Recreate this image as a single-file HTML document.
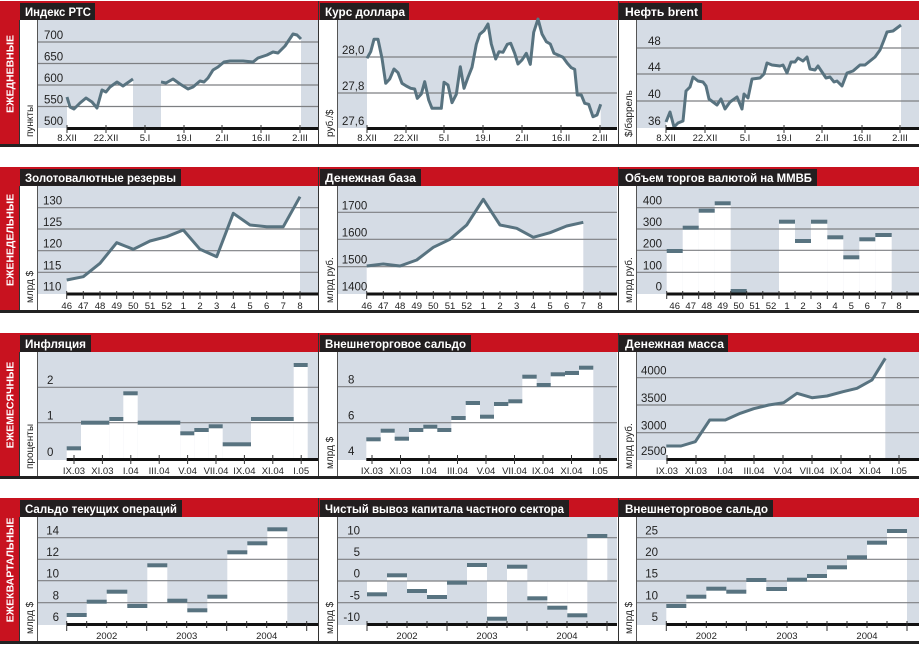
<!DOCTYPE html>
<html><head><meta charset="utf-8"><style>
html,body{margin:0;padding:0;background:#fff;}
svg{display:block;font-family:"Liberation Sans",Arial,sans-serif;}
.t{fill:#fff;font-weight:bold;font-size:12px;}
.s{fill:#fff;font-weight:bold;font-size:10.5px;}
.yl{fill:#222;font-size:11.5px;}
.xl{fill:#222;font-size:9.5px;text-anchor:middle;}
.un{fill:#222;font-size:10px;}
.g{stroke:#7d7f82;stroke-width:1.2;}
.ln{fill:none;stroke:#587380;stroke-width:3;stroke-linejoin:round;}
.tk{stroke:#333;stroke-width:1;}
.b{fill:#587380;}
</style></head><body>
<svg width="919" height="646" viewBox="0 0 919 646" xmlns="http://www.w3.org/2000/svg">
<g id="r0">
<rect x="0" y="1" width="919" height="19" fill="#c8121f"/>
<rect x="0" y="1" width="19" height="145" fill="#c8121f"/>
<rect x="38" y="20" width="280" height="108" fill="#d5dce5"/>
<rect x="338" y="20" width="279" height="108" fill="#d5dce5"/>
<rect x="637" y="20" width="282" height="108" fill="#d5dce5"/>
<line x1="19.5" y1="20" x2="19.5" y2="146" stroke="#333"/>
<line x1="37.5" y1="20" x2="37.5" y2="146" stroke="#555"/>
<line x1="318.5" y1="1" x2="318.5" y2="146" stroke="#333"/>
<line x1="337.5" y1="20" x2="337.5" y2="146" stroke="#555"/>
<line x1="618.5" y1="1" x2="618.5" y2="146" stroke="#333"/>
<line x1="636.5" y1="20" x2="636.5" y2="146" stroke="#555"/>
<rect x="0" y="144" width="919" height="3" fill="#222"/>
</g>
<use href="#r0" y="166"/>
<use href="#r0" y="332"/>
<use href="#r0" y="497"/>

<rect x="20" y="3" width="75" height="17" fill="#231f20"/><text class="t" x="25" y="16" textLength="66" lengthAdjust="spacingAndGlyphs">Индекс РТС</text>
<rect x="320" y="3" width="89" height="17" fill="#231f20"/><text class="t" x="325" y="16" textLength="80" lengthAdjust="spacingAndGlyphs">Курс доллара</text>
<rect x="619" y="3" width="83" height="17" fill="#231f20"/><text class="t" x="625" y="16" textLength="73" lengthAdjust="spacingAndGlyphs">Нефть brent</text>
<rect x="20" y="169" width="161" height="17" fill="#231f20"/><text class="t" x="25" y="182" textLength="151" lengthAdjust="spacingAndGlyphs">Золотовалютные резервы</text>
<rect x="320" y="169" width="101" height="17" fill="#231f20"/><text class="t" x="325" y="182" textLength="91" lengthAdjust="spacingAndGlyphs">Денежная база</text>
<rect x="619" y="169" width="198" height="17" fill="#231f20"/><text class="t" x="625" y="182" textLength="187" lengthAdjust="spacingAndGlyphs">Объем торгов валютой на ММВБ</text>
<rect x="20" y="335" width="71" height="17" fill="#231f20"/><text class="t" x="25" y="348" textLength="61" lengthAdjust="spacingAndGlyphs">Инфляция</text>
<rect x="320" y="335" width="151" height="17" fill="#231f20"/><text class="t" x="325" y="348" textLength="141" lengthAdjust="spacingAndGlyphs">Внешнеторговое сальдо</text>
<rect x="619" y="335" width="109" height="17" fill="#231f20"/><text class="t" x="625" y="348" textLength="99" lengthAdjust="spacingAndGlyphs">Денежная масса</text>
<rect x="20" y="500" width="162" height="17" fill="#231f20"/><text class="t" x="25" y="513" textLength="152" lengthAdjust="spacingAndGlyphs">Сальдо текущих операций</text>
<rect x="320" y="500" width="249" height="17" fill="#231f20"/><text class="t" x="325" y="513" textLength="239" lengthAdjust="spacingAndGlyphs">Чистый вывоз капитала частного сектора</text>
<rect x="619" y="500" width="154" height="17" fill="#231f20"/><text class="t" x="625" y="513" textLength="143" lengthAdjust="spacingAndGlyphs">Внешнеторговое сальдо</text>

<text class="s" transform="translate(13.5,74) rotate(-90)" text-anchor="middle">ЕЖЕДНЕВНЫЕ</text>
<text class="s" transform="translate(13.5,240) rotate(-90)" text-anchor="middle">ЕЖЕНЕДЕЛЬНЫЕ</text>
<text class="s" transform="translate(13.5,405) rotate(-90)" text-anchor="middle">ЕЖЕМЕСЯЧНЫЕ</text>
<text class="s" transform="translate(13.5,570) rotate(-90)" text-anchor="middle">ЕЖЕКВАРТАЛЬНЫЕ</text>

<text class="un" transform="translate(33,137) rotate(-90)">пункты</text>
<text class="un" transform="translate(333,137) rotate(-90)">руб./$</text>
<text class="un" transform="translate(632,137) rotate(-90)">$/баррель</text>
<text class="un" transform="translate(33,303) rotate(-90)">млрд $</text>
<text class="un" transform="translate(333,303) rotate(-90)">млрд руб.</text>
<text class="un" transform="translate(632,303) rotate(-90)">млрд руб.</text>
<text class="un" transform="translate(33,469) rotate(-90)">проценты</text>
<text class="un" transform="translate(333,469) rotate(-90)">млрд $</text>
<text class="un" transform="translate(632,469) rotate(-90)">млрд руб.</text>
<text class="un" transform="translate(33,634) rotate(-90)">млрд $</text>
<text class="un" transform="translate(333,634) rotate(-90)">млрд $</text>
<text class="un" transform="translate(632,634) rotate(-90)">млрд $</text>

<!-- R1C1 -->
<polygon fill="#fff" points="67,97 70,107 74,109 80,103 86,98 92,102 97,108 102,90 106,92 110,87 117,82 123,86 133,79 133,128 67,128"/>
<polygon fill="#fff" points="161,82 166,83 173,79 180,84 188,89 193,87 200,81 204,82 208,78 213,70 218,67 224,62 230,61 237,61 243,61 253,62 258,58 267,55 273,52 278,53 285,46 293,34 297,35 301,39 301,128 161,128"/>
<g class="g"><line x1="38" y1="42" x2="318" y2="42"/><line x1="38" y1="63.5" x2="318" y2="63.5"/><line x1="38" y1="85" x2="318" y2="85"/><line x1="38" y1="106.5" x2="318" y2="106.5"/></g>
<g class="yl"><text x="44" y="39">700</text><text x="44" y="60.5">650</text><text x="44" y="82">600</text><text x="44" y="103.5">550</text><text x="44" y="125">500</text></g>
<polyline class="ln" points="67,97 70,107 74,109 80,103 86,98 92,102 97,108 102,90 106,92 110,87 117,82 123,86 133,79"/>
<polyline class="ln" points="161,82 166,83 173,79 180,84 188,89 193,87 200,81 204,82 208,78 213,70 218,67 224,62 230,61 237,61 243,61 253,62 258,58 267,55 273,52 278,53 285,46 293,34 297,35 301,39"/>
<rect x="67" y="127" width="251" height="3" fill="#111"/>
<g class="tk"><line x1="67" y1="125" x2="67" y2="133"/><line x1="106" y1="125" x2="106" y2="133"/><line x1="145" y1="125" x2="145" y2="133"/><line x1="184" y1="125" x2="184" y2="133"/><line x1="222" y1="125" x2="222" y2="133"/><line x1="261" y1="125" x2="261" y2="133"/><line x1="300" y1="125" x2="300" y2="133"/></g>
<g class="xl"><text x="67" y="141">8.XII</text><text x="106" y="141">22.XII</text><text x="145" y="141">5.I</text><text x="184" y="141">19.I</text><text x="222" y="141">2.II</text><text x="261" y="141">16.II</text><text x="300" y="141">2.III</text></g>

<!-- R1C2 -->
<polygon fill="#fff" points="367,58.3 370.7,51.7 374,39.3 378,39.3 382,58.3 385.7,83.3 389.7,79 394,69 398,72.7 402,83.3 406.3,86 410.7,88.3 414.7,89 417.3,98.3 421.3,94 424.7,81.7 428.7,100 432,108.3 441.3,108.3 444,82.3 448,85 452,102.7 456.3,94.3 460.3,66.7 464,88.3 468,77.3 472,67.3 476.3,44.3 479.7,34.3 484,30.7 488,24 491.3,44 495.7,59 499,51.7 503,52.3 507.3,44.3 510.7,43.3 514.7,53.3 518,64 522,60 526.3,53.3 530.3,64.3 533.7,32.3 538,19 542,34 546.3,41.7 550.3,44 554,53.3 558,55 563,57.3 567.3,63.3 571.3,67.7 574.7,69.3 577.3,95 581.3,95 584.7,103.3 588.7,104.3 593,116.7 597,115 600.7,104.3 600.7,128 367,128"/>
<g class="g"><line x1="338" y1="57" x2="617" y2="57"/><line x1="338" y1="93" x2="617" y2="93"/></g>
<g class="yl"><text x="342" y="54">28,0</text><text x="342" y="90">27,8</text><text x="342" y="125">27,6</text></g>
<polyline class="ln" points="367,58.3 370.7,51.7 374,39.3 378,39.3 382,58.3 385.7,83.3 389.7,79 394,69 398,72.7 402,83.3 406.3,86 410.7,88.3 414.7,89 417.3,98.3 421.3,94 424.7,81.7 428.7,100 432,108.3 441.3,108.3 444,82.3 448,85 452,102.7 456.3,94.3 460.3,66.7 464,88.3 468,77.3 472,67.3 476.3,44.3 479.7,34.3 484,30.7 488,24 491.3,44 495.7,59 499,51.7 503,52.3 507.3,44.3 510.7,43.3 514.7,53.3 518,64 522,60 526.3,53.3 530.3,64.3 533.7,32.3 538,19 542,34 546.3,41.7 550.3,44 554,53.3 558,55 563,57.3 567.3,63.3 571.3,67.7 574.7,69.3 577.3,95 581.3,95 584.7,103.3 588.7,104.3 593,116.7 597,115 600.7,104.3"/>
<rect x="367" y="127" width="250" height="3" fill="#111"/>
<g class="tk"><line x1="367" y1="125" x2="367" y2="133"/><line x1="406" y1="125" x2="406" y2="133"/><line x1="444" y1="125" x2="444" y2="133"/><line x1="483" y1="125" x2="483" y2="133"/><line x1="522" y1="125" x2="522" y2="133"/><line x1="561" y1="125" x2="561" y2="133"/><line x1="600" y1="125" x2="600" y2="133"/></g>
<g class="xl"><text x="367" y="141">8.XII</text><text x="406" y="141">22.XII</text><text x="444" y="141">5.I</text><text x="483" y="141">19.I</text><text x="522" y="141">2.II</text><text x="561" y="141">16.II</text><text x="600" y="141">2.III</text></g>

<!-- R1C3 -->
<polygon fill="#fff" points="666,122 670,112 674,127 678,123 683,121 686,91 690,87 693,77 698,81 703,82 706,86 709,99 713,102 717,105 721,99 725,109 730,102 737,97 742,109 744,94 748,98 752,79 760,78 764,74 767,63 772,65 780,66 783,65 787,73 791,62 795,62 798,58 803,61 807,57 810,69 815,70 818,66 826,78 830,77 834,82 837,81 842,86 847,73 853,71 860,65 865,65 870,61 875,57 880,50 884,40 887,32 893,31 901,25 901,128 666,128"/>
<g class="g"><line x1="637" y1="48" x2="919" y2="48"/><line x1="637" y1="74" x2="919" y2="74"/><line x1="637" y1="101" x2="919" y2="101"/></g>
<g class="yl"><text x="648" y="45">48</text><text x="648" y="71">44</text><text x="648" y="98">40</text><text x="648" y="125">36</text></g>
<polyline class="ln" points="666,122 670,112 674,127 678,123 683,121 686,91 690,87 693,77 698,81 703,82 706,86 709,99 713,102 717,105 721,99 725,109 730,102 737,97 742,109 744,94 748,98 752,79 760,78 764,74 767,63 772,65 780,66 783,65 787,73 791,62 795,62 798,58 803,61 807,57 810,69 815,70 818,66 826,78 830,77 834,82 837,81 842,86 847,73 853,71 860,65 865,65 870,61 875,57 880,50 884,40 887,32 893,31 901,25"/>
<rect x="666" y="127" width="253" height="3" fill="#111"/>
<g class="tk"><line x1="666" y1="125" x2="666" y2="133"/><line x1="705" y1="125" x2="705" y2="133"/><line x1="745" y1="125" x2="745" y2="133"/><line x1="784" y1="125" x2="784" y2="133"/><line x1="822" y1="125" x2="822" y2="133"/><line x1="862" y1="125" x2="862" y2="133"/><line x1="900" y1="125" x2="900" y2="133"/></g>
<g class="xl"><text x="666" y="141">8.XII</text><text x="705" y="141">22.XII</text><text x="745" y="141">5.I</text><text x="784" y="141">19.I</text><text x="822" y="141">2.II</text><text x="862" y="141">16.II</text><text x="900" y="141">2.III</text></g>

<!-- R2C1 -->
<polygon fill="#fff" points="66.7,280 83.3,276.7 100,263.3 116.7,242.7 133.3,249.3 150,241 166.7,236.7 183.3,230 200,249.3 216.7,256.7 233.3,213.3 250,225 266.7,226.7 283.3,226.7 300,196.7 300,294 66.7,294"/>
<g class="g"><line x1="38" y1="207.7" x2="318" y2="207.7"/><line x1="38" y1="229" x2="318" y2="229"/><line x1="38" y1="250.7" x2="318" y2="250.7"/><line x1="38" y1="272.3" x2="318" y2="272.3"/></g>
<g class="yl"><text x="43" y="204.7">130</text><text x="43" y="226">125</text><text x="43" y="247.7">120</text><text x="43" y="269.3">115</text><text x="43" y="290.3">110</text></g>
<polyline class="ln" points="66.7,280 83.3,276.7 100,263.3 116.7,242.7 133.3,249.3 150,241 166.7,236.7 183.3,230 200,249.3 216.7,256.7 233.3,213.3 250,225 266.7,226.7 283.3,226.7 300,196.7"/>
<rect x="66.7" y="292.5" width="251.3" height="3" fill="#111"/>
<g class="tk"><line x1="66.7" y1="291" x2="66.7" y2="299"/><line x1="83.3" y1="291" x2="83.3" y2="299"/><line x1="100" y1="291" x2="100" y2="299"/><line x1="116.7" y1="291" x2="116.7" y2="299"/><line x1="133.3" y1="291" x2="133.3" y2="299"/><line x1="150" y1="291" x2="150" y2="299"/><line x1="166.7" y1="291" x2="166.7" y2="299"/><line x1="183.3" y1="291" x2="183.3" y2="299"/><line x1="200" y1="291" x2="200" y2="299"/><line x1="216.7" y1="291" x2="216.7" y2="299"/><line x1="233.3" y1="291" x2="233.3" y2="299"/><line x1="250" y1="291" x2="250" y2="299"/><line x1="266.7" y1="291" x2="266.7" y2="299"/><line x1="283.3" y1="291" x2="283.3" y2="299"/><line x1="300" y1="291" x2="300" y2="299"/></g>
<g class="xl"><text x="66.7" y="309">46</text><text x="83.3" y="309">47</text><text x="100" y="309">48</text><text x="116.7" y="309">49</text><text x="133.3" y="309">50</text><text x="150" y="309">51</text><text x="166.7" y="309">52</text><text x="183.3" y="309">1</text><text x="200" y="309">2</text><text x="216.7" y="309">3</text><text x="233.3" y="309">4</text><text x="250" y="309">5</text><text x="266.7" y="309">6</text><text x="283.3" y="309">7</text><text x="300" y="309">8</text></g>

<!-- R2C2 -->
<polygon fill="#fff" points="366.7,266 383.3,264 400,266 416.7,260 433.3,247.3 450,239.3 466.7,225 483.3,199.3 500,225 516.7,228.3 533.3,237.3 550,232.7 566.7,226 583.3,222.3 583.3,294 366.7,294"/>
<g class="g"><line x1="338" y1="212.3" x2="617" y2="212.3"/><line x1="338" y1="239.3" x2="617" y2="239.3"/><line x1="338" y1="266.7" x2="617" y2="266.7"/></g>
<g class="yl"><text x="341.7" y="209.3">1700</text><text x="341.7" y="236.3">1600</text><text x="341.7" y="263.7">1500</text><text x="341.7" y="290.3">1400</text></g>
<polyline class="ln" points="366.7,266 383.3,264 400,266 416.7,260 433.3,247.3 450,239.3 466.7,225 483.3,199.3 500,225 516.7,228.3 533.3,237.3 550,232.7 566.7,226 583.3,222.3"/>
<rect x="366.7" y="292.5" width="250.3" height="3" fill="#111"/>
<g class="tk"><line x1="366.7" y1="291" x2="366.7" y2="299"/><line x1="383.3" y1="291" x2="383.3" y2="299"/><line x1="400" y1="291" x2="400" y2="299"/><line x1="416.7" y1="291" x2="416.7" y2="299"/><line x1="433.3" y1="291" x2="433.3" y2="299"/><line x1="450" y1="291" x2="450" y2="299"/><line x1="466.7" y1="291" x2="466.7" y2="299"/><line x1="483.3" y1="291" x2="483.3" y2="299"/><line x1="500" y1="291" x2="500" y2="299"/><line x1="516.7" y1="291" x2="516.7" y2="299"/><line x1="533.3" y1="291" x2="533.3" y2="299"/><line x1="550" y1="291" x2="550" y2="299"/><line x1="566.7" y1="291" x2="566.7" y2="299"/><line x1="583.3" y1="291" x2="583.3" y2="299"/><line x1="600" y1="291" x2="600" y2="299"/></g>
<g class="xl"><text x="366.7" y="309">46</text><text x="383.3" y="309">47</text><text x="400" y="309">48</text><text x="416.7" y="309">49</text><text x="433.3" y="309">50</text><text x="450" y="309">51</text><text x="466.7" y="309">52</text><text x="483.3" y="309">1</text><text x="500" y="309">2</text><text x="516.7" y="309">3</text><text x="533.3" y="309">4</text><text x="550" y="309">5</text><text x="566.7" y="309">6</text><text x="583.3" y="309">7</text><text x="600" y="309">8</text></g>

<!-- R2C3 -->
<g fill="#fff">
<rect x="666.7" y="251" width="16" height="43"/><rect x="682.7" y="227.7" width="16" height="66"/><rect x="698.7" y="210.7" width="16" height="83"/><rect x="714.7" y="203.3" width="16" height="91"/><rect x="730.7" y="291" width="16" height="3"/>
<rect x="779" y="221.7" width="16" height="72"/><rect x="795" y="241" width="16" height="53"/><rect x="811" y="221.7" width="16.3" height="72"/><rect x="827.3" y="237.3" width="16" height="57"/><rect x="843.3" y="257.3" width="16" height="37"/><rect x="859.3" y="239.3" width="16" height="55"/><rect x="875.3" y="235" width="16.4" height="59"/>
</g>
<g class="g"><line x1="637" y1="207.7" x2="919" y2="207.7"/><line x1="637" y1="229" x2="919" y2="229"/><line x1="637" y1="250.3" x2="919" y2="250.3"/><line x1="637" y1="272.3" x2="919" y2="272.3"/></g>
<g class="yl" text-anchor="end"><text x="662" y="204.7">400</text><text x="662" y="226">300</text><text x="662" y="247.3">200</text><text x="662" y="269.3">100</text><text x="662" y="290.3">0</text></g>
<g class="b">
<rect x="666.7" y="249" width="16" height="4"/><rect x="682.7" y="225.7" width="16" height="4"/><rect x="698.7" y="208.7" width="16" height="4"/><rect x="714.7" y="201.3" width="16" height="4"/><rect x="730.7" y="289" width="16" height="4"/>
<rect x="779" y="219.7" width="16" height="4"/><rect x="795" y="239" width="16" height="4"/><rect x="811" y="219.7" width="16.3" height="4"/><rect x="827.3" y="235.3" width="16" height="4"/><rect x="843.3" y="255.3" width="16" height="4"/><rect x="859.3" y="237.3" width="16" height="4"/><rect x="875.3" y="233" width="16.4" height="4"/>
</g>
<rect x="666.7" y="292.5" width="252.3" height="3" fill="#111"/>
<g class="tk"><line x1="666.7" y1="291" x2="666.7" y2="299"/><line x1="682.7" y1="291" x2="682.7" y2="299"/><line x1="698.7" y1="291" x2="698.7" y2="299"/><line x1="714.7" y1="291" x2="714.7" y2="299"/><line x1="730.7" y1="291" x2="730.7" y2="299"/><line x1="746.7" y1="291" x2="746.7" y2="299"/><line x1="762.8" y1="291" x2="762.8" y2="299"/><line x1="779" y1="291" x2="779" y2="299"/><line x1="795" y1="291" x2="795" y2="299"/><line x1="811" y1="291" x2="811" y2="299"/><line x1="827.3" y1="291" x2="827.3" y2="299"/><line x1="843.3" y1="291" x2="843.3" y2="299"/><line x1="859.3" y1="291" x2="859.3" y2="299"/><line x1="875.3" y1="291" x2="875.3" y2="299"/><line x1="891.7" y1="291" x2="891.7" y2="299"/><line x1="907" y1="291" x2="907" y2="299"/></g>
<g class="xl"><text x="674.7" y="309">46</text><text x="690.7" y="309">47</text><text x="706.7" y="309">48</text><text x="722.7" y="309">49</text><text x="738.7" y="309">50</text><text x="754.7" y="309">51</text><text x="771" y="309">52</text><text x="787" y="309">1</text><text x="803" y="309">2</text><text x="819" y="309">3</text><text x="835" y="309">4</text><text x="851.3" y="309">5</text><text x="867.3" y="309">6</text><text x="883.5" y="309">7</text><text x="899" y="309">8</text></g>

<!-- R3C1 -->
<g fill="#fff">
<rect x="66.7" y="448.3" width="14.3" height="11"/><rect x="81" y="422.7" width="28.3" height="37"/><rect x="109.3" y="419" width="14" height="40"/><rect x="123.3" y="393.3" width="14.4" height="66"/><rect x="137.7" y="422.7" width="42.6" height="37"/><rect x="180.3" y="433.3" width="14" height="26"/><rect x="194.3" y="430" width="14.4" height="29"/><rect x="208.7" y="426.3" width="14" height="33"/><rect x="222.7" y="444.3" width="28.3" height="15"/><rect x="251" y="419" width="42.7" height="40"/><rect x="293.7" y="365" width="14" height="94"/>
</g>
<g class="g"><line x1="38" y1="387.3" x2="318" y2="387.3"/><line x1="38" y1="422.7" x2="318" y2="422.7"/></g>
<g class="yl"><text x="47" y="384">2</text><text x="47" y="419.5">1</text><text x="47" y="456">0</text></g>
<g class="b">
<rect x="66.7" y="446.3" width="14.3" height="4"/><rect x="81" y="420.7" width="28.3" height="4"/><rect x="109.3" y="417" width="14" height="4"/><rect x="123.3" y="391.3" width="14.4" height="4"/><rect x="137.7" y="420.7" width="42.6" height="4"/><rect x="180.3" y="431.3" width="14" height="4"/><rect x="194.3" y="428" width="14.4" height="4"/><rect x="208.7" y="424.3" width="14" height="4"/><rect x="222.7" y="442.3" width="28.3" height="4"/><rect x="251" y="417" width="42.7" height="4"/><rect x="293.7" y="363" width="14" height="4"/>
</g>
<rect x="66.7" y="458" width="251.3" height="3" fill="#111"/>
<g class="tk"><line x1="74" y1="455" x2="74" y2="464"/><line x1="102.4" y1="455" x2="102.4" y2="464"/><line x1="130.8" y1="455" x2="130.8" y2="464"/><line x1="159.2" y1="455" x2="159.2" y2="464"/><line x1="187.6" y1="455" x2="187.6" y2="464"/><line x1="216" y1="455" x2="216" y2="464"/><line x1="244.4" y1="455" x2="244.4" y2="464"/><line x1="272.8" y1="455" x2="272.8" y2="464"/><line x1="301.2" y1="455" x2="301.2" y2="464"/></g>
<g class="xl"><text x="74" y="474">IX.03</text><text x="102.4" y="474">XI.03</text><text x="130.8" y="474">I.04</text><text x="159.2" y="474">III.04</text><text x="187.6" y="474">V.04</text><text x="216" y="474">VII.04</text><text x="244.4" y="474">IX.04</text><text x="272.8" y="474">XI.04</text><text x="301.2" y="474">I.05</text></g>

<!-- R3C2 -->
<polygon fill="#fff" points="366.3,439.3 380.7,439.3 380.7,430.7 394.7,430.7 394.7,438.7 409,438.7 409,430 423.3,430 423.3,426.7 437.3,426.7 437.3,430 451.3,430 451.3,418 465.7,418 465.7,403 480,403 480,416.7 494,416.7 494,404 508.3,404 508.3,401.3 522.3,401.3 522.3,376.7 536.7,376.7 536.7,385 550.7,385 550.7,374.3 565,374.3 565,373 579,373 579,367.7 593.3,367.7 593.3,459 366.3,459"/>
<g class="g"><line x1="338" y1="386.7" x2="617" y2="386.7"/><line x1="338" y1="422.7" x2="617" y2="422.7"/></g>
<g class="yl"><text x="348" y="383.5">8</text><text x="348" y="419.5">6</text><text x="348" y="455">4</text></g>
<g class="b">
<rect x="366.3" y="437.3" width="14.4" height="4"/><rect x="380.7" y="428.7" width="14" height="4"/><rect x="394.7" y="436.7" width="14.3" height="4"/><rect x="409" y="428" width="14.3" height="4"/><rect x="423.3" y="424.7" width="14" height="4"/><rect x="437.3" y="428" width="14" height="4"/><rect x="451.3" y="416" width="14.4" height="4"/><rect x="465.7" y="401" width="14.3" height="4"/><rect x="480" y="414.7" width="14" height="4"/><rect x="494" y="402" width="14.3" height="4"/><rect x="508.3" y="399.3" width="14" height="4"/><rect x="522.3" y="374.7" width="14.4" height="4"/><rect x="536.7" y="383" width="14" height="4"/><rect x="550.7" y="372.3" width="14.3" height="4"/><rect x="565" y="371" width="14" height="4"/><rect x="579" y="365.7" width="14.3" height="4"/>
</g>
<rect x="366.3" y="458" width="250.7" height="3" fill="#111"/>
<g class="tk"><line x1="372" y1="455" x2="372" y2="464"/><line x1="400.5" y1="455" x2="400.5" y2="464"/><line x1="429" y1="455" x2="429" y2="464"/><line x1="457.5" y1="455" x2="457.5" y2="464"/><line x1="486" y1="455" x2="486" y2="464"/><line x1="514.5" y1="455" x2="514.5" y2="464"/><line x1="543" y1="455" x2="543" y2="464"/><line x1="571.5" y1="455" x2="571.5" y2="464"/><line x1="600" y1="455" x2="600" y2="464"/></g>
<g class="xl"><text x="372" y="474">IX.03</text><text x="400.5" y="474">XI.03</text><text x="429" y="474">I.04</text><text x="457.5" y="474">III.04</text><text x="486" y="474">V.04</text><text x="514.5" y="474">VII.04</text><text x="543" y="474">IX.04</text><text x="571.5" y="474">XI.04</text><text x="600" y="474">I.05</text></g>

<!-- R3C3 -->
<polygon fill="#fff" points="666.3,446 681,446 695.3,441.7 709.7,420 725.3,420 740.3,413.3 753.7,408.7 768.7,405 783.7,402.7 797,393.3 812,397.7 827,396 843,391.7 857,388.3 872,380 885.3,358.3 885.3,459 666.3,459"/>
<g class="g"><line x1="637" y1="377.7" x2="919" y2="377.7"/><line x1="637" y1="405" x2="919" y2="405"/><line x1="637" y1="432.7" x2="919" y2="432.7"/></g>
<g class="yl"><text x="641" y="374.7">4000</text><text x="641" y="402">3500</text><text x="641" y="429.7">3000</text><text x="641" y="455">2500</text></g>
<polyline class="ln" points="666.3,446 681,446 695.3,441.7 709.7,420 725.3,420 740.3,413.3 753.7,408.7 768.7,405 783.7,402.7 797,393.3 812,397.7 827,396 843,391.7 857,388.3 872,380 885.3,358.3"/>
<rect x="666.3" y="458" width="252.7" height="3" fill="#111"/>
<g class="tk"><line x1="667" y1="455" x2="667" y2="464"/><line x1="696" y1="455" x2="696" y2="464"/><line x1="725" y1="455" x2="725" y2="464"/><line x1="754" y1="455" x2="754" y2="464"/><line x1="783" y1="455" x2="783" y2="464"/><line x1="812" y1="455" x2="812" y2="464"/><line x1="841" y1="455" x2="841" y2="464"/><line x1="870" y1="455" x2="870" y2="464"/><line x1="899" y1="455" x2="899" y2="464"/></g>
<g class="xl"><text x="667" y="474">IX.03</text><text x="696" y="474">XI.03</text><text x="725" y="474">I.04</text><text x="754" y="474">III.04</text><text x="783" y="474">V.04</text><text x="812" y="474">VII.04</text><text x="841" y="474">IX.04</text><text x="870" y="474">XI.04</text><text x="899" y="474">I.05</text></g>

<!-- R4C1 -->
<polygon fill="#fff" points="66.7,615 86.7,615 86.7,601.7 106.7,601.7 106.7,591.7 127.3,591.7 127.3,606 147.3,606 147.3,565.3 167.3,565.3 167.3,600.7 187.3,600.7 187.3,610.3 207.3,610.3 207.3,596.7 227.3,596.7 227.3,552.3 247.3,552.3 247.3,543.3 267.3,543.3 267.3,529.3 287.3,529.3 287.3,624 66.7,624"/>
<g class="g"><line x1="38" y1="537.7" x2="318" y2="537.7"/><line x1="38" y1="559.3" x2="318" y2="559.3"/><line x1="38" y1="580.7" x2="318" y2="580.7"/><line x1="38" y1="602.7" x2="318" y2="602.7"/></g>
<g class="yl" text-anchor="end"><text x="59" y="534.5">14</text><text x="59" y="556">12</text><text x="59" y="577.5">10</text><text x="59" y="599.5">8</text><text x="59" y="621">6</text></g>
<g class="b">
<rect x="66.7" y="613" width="20" height="4"/><rect x="86.7" y="599.7" width="20" height="4"/><rect x="106.7" y="589.7" width="20.6" height="4"/><rect x="127.3" y="604" width="20" height="4"/><rect x="147.3" y="563.3" width="20" height="4"/><rect x="167.3" y="598.7" width="20" height="4"/><rect x="187.3" y="608.3" width="20" height="4"/><rect x="207.3" y="594.7" width="20" height="4"/><rect x="227.3" y="550.3" width="20" height="4"/><rect x="247.3" y="541.3" width="20" height="4"/><rect x="267.3" y="527.3" width="20" height="4"/>
</g>
<rect x="66.7" y="623" width="251.3" height="3" fill="#111"/>
<g class="tk"><line x1="66.7" y1="621" x2="66.7" y2="631"/><line x1="86.7" y1="621" x2="86.7" y2="628"/><line x1="106.7" y1="621" x2="106.7" y2="628"/><line x1="126.7" y1="621" x2="126.7" y2="628"/><line x1="146.7" y1="621" x2="146.7" y2="631"/><line x1="166.7" y1="621" x2="166.7" y2="628"/><line x1="186.7" y1="621" x2="186.7" y2="628"/><line x1="206.7" y1="621" x2="206.7" y2="628"/><line x1="226.7" y1="621" x2="226.7" y2="631"/><line x1="246.7" y1="621" x2="246.7" y2="628"/><line x1="266.7" y1="621" x2="266.7" y2="628"/><line x1="286.7" y1="621" x2="286.7" y2="628"/><line x1="306.7" y1="621" x2="306.7" y2="631"/></g>
<g class="xl"><text x="106.7" y="639">2002</text><text x="186.7" y="639">2003</text><text x="266.7" y="639">2004</text></g>

<!-- R4C2 -->
<g fill="#fff">
<rect x="367" y="581" width="20" height="13.3"/><rect x="387" y="575.3" width="20" height="5.7"/><rect x="407" y="581" width="20" height="10"/><rect x="427" y="581" width="20" height="16"/><rect x="447" y="581" width="20" height="1.7"/><rect x="467" y="565" width="20" height="16"/><rect x="487" y="581" width="20" height="37.7"/><rect x="507" y="566.7" width="20.3" height="14.3"/><rect x="527.3" y="581" width="20" height="17.3"/><rect x="547.3" y="581" width="20" height="26.7"/><rect x="567.3" y="581" width="20" height="34.3"/><rect x="587.3" y="536" width="20" height="45"/>
</g>
<g class="g"><line x1="338" y1="537.7" x2="617" y2="537.7"/><line x1="338" y1="559.3" x2="617" y2="559.3"/><line x1="338" y1="581" x2="617" y2="581"/><line x1="338" y1="602.7" x2="617" y2="602.7"/></g>
<g class="yl" text-anchor="end"><text x="360" y="534.5">10</text><text x="360" y="556">5</text><text x="360" y="577.5">0</text><text x="360" y="599.5">-5</text><text x="360" y="621">-10</text></g>
<g class="b">
<rect x="367" y="592.3" width="20" height="4"/><rect x="387" y="573.3" width="20" height="4"/><rect x="407" y="589" width="20" height="4"/><rect x="427" y="595" width="20" height="4"/><rect x="447" y="580.7" width="20" height="4"/><rect x="467" y="563" width="20" height="4"/><rect x="487" y="616.7" width="20" height="4"/><rect x="507" y="564.7" width="20.3" height="4"/><rect x="527.3" y="596.3" width="20" height="4"/><rect x="547.3" y="605.7" width="20" height="4"/><rect x="567.3" y="613.3" width="20" height="4"/><rect x="587.3" y="534" width="20" height="4"/>
</g>
<rect x="367" y="623" width="250" height="3" fill="#111"/>
<g class="tk"><line x1="367" y1="621" x2="367" y2="631"/><line x1="387" y1="621" x2="387" y2="628"/><line x1="407" y1="621" x2="407" y2="628"/><line x1="427" y1="621" x2="427" y2="628"/><line x1="447" y1="621" x2="447" y2="631"/><line x1="467" y1="621" x2="467" y2="628"/><line x1="487" y1="621" x2="487" y2="628"/><line x1="507" y1="621" x2="507" y2="628"/><line x1="527" y1="621" x2="527" y2="631"/><line x1="547" y1="621" x2="547" y2="628"/><line x1="567" y1="621" x2="567" y2="628"/><line x1="587" y1="621" x2="587" y2="628"/><line x1="607" y1="621" x2="607" y2="631"/></g>
<g class="xl"><text x="407" y="639">2002</text><text x="487" y="639">2003</text><text x="567" y="639">2004</text></g>

<!-- R4C3 -->
<polygon fill="#fff" points="666.3,606 686.3,606 686.3,596.7 706.3,596.7 706.3,588.7 726.3,588.7 726.3,591.7 746.3,591.7 746.3,580 766.3,580 766.3,589 787,589 787,579.7 807,579.7 807,576 827,576 827,567.3 847,567.3 847,557.3 867,557.3 867,542.7 887,542.7 887,531 907,531 907,624 666.3,624"/>
<g class="g"><line x1="637" y1="537.7" x2="919" y2="537.7"/><line x1="637" y1="559.3" x2="919" y2="559.3"/><line x1="637" y1="581" x2="919" y2="581"/><line x1="637" y1="602.7" x2="919" y2="602.7"/></g>
<g class="yl" text-anchor="end"><text x="658" y="534.5">25</text><text x="658" y="556">20</text><text x="658" y="577.5">15</text><text x="658" y="599.5">10</text><text x="658" y="621">5</text></g>
<g class="b">
<rect x="666.3" y="604" width="20" height="4"/><rect x="686.3" y="594.7" width="20" height="4"/><rect x="706.3" y="586.7" width="20" height="4"/><rect x="726.3" y="589.7" width="20" height="4"/><rect x="746.3" y="578" width="20" height="4"/><rect x="766.3" y="587" width="20.7" height="4"/><rect x="787" y="577.7" width="20" height="4"/><rect x="807" y="574" width="20" height="4"/><rect x="827" y="565.3" width="20" height="4"/><rect x="847" y="555.3" width="20" height="4"/><rect x="867" y="540.7" width="20" height="4"/><rect x="887" y="529" width="20" height="4"/>
</g>
<rect x="666.3" y="623" width="252.7" height="3" fill="#111"/>
<g class="tk"><line x1="666.3" y1="621" x2="666.3" y2="631"/><line x1="686.3" y1="621" x2="686.3" y2="628"/><line x1="706.3" y1="621" x2="706.3" y2="628"/><line x1="726.3" y1="621" x2="726.3" y2="628"/><line x1="746.3" y1="621" x2="746.3" y2="631"/><line x1="766.3" y1="621" x2="766.3" y2="628"/><line x1="787" y1="621" x2="787" y2="628"/><line x1="807" y1="621" x2="807" y2="628"/><line x1="827" y1="621" x2="827" y2="631"/><line x1="847" y1="621" x2="847" y2="628"/><line x1="867" y1="621" x2="867" y2="628"/><line x1="887" y1="621" x2="887" y2="628"/><line x1="907" y1="621" x2="907" y2="631"/></g>
<g class="xl"><text x="706.3" y="639">2002</text><text x="787" y="639">2003</text><text x="867" y="639">2004</text></g>
</svg>
</body></html>
